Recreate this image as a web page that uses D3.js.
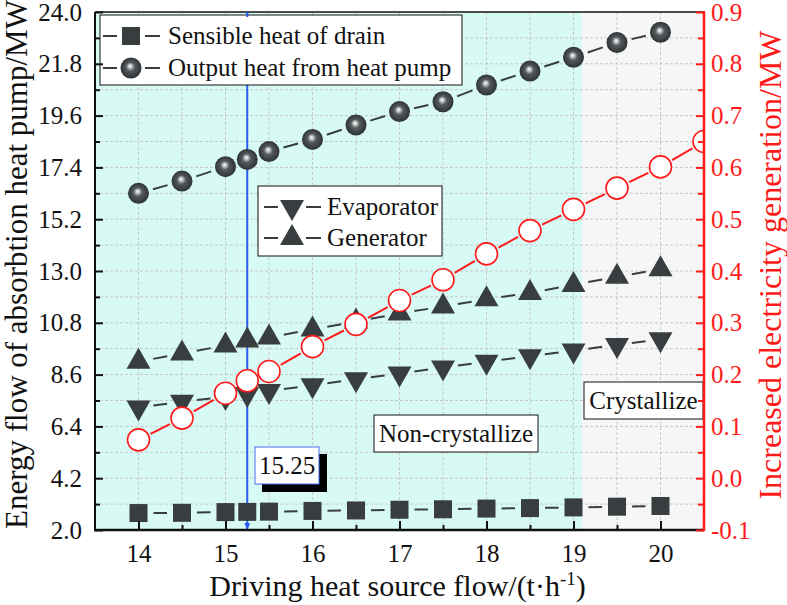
<!DOCTYPE html>
<html><head><meta charset="utf-8">
<script src="https://cdn.jsdelivr.net/npm/d3@7"></script>
<style>
html,body{margin:0;padding:0;background:#fff;}
</style></head>
<body>
<svg id="chart" width="787" height="605" font-family="Liberation Serif"></svg>
<script>
// ---------- data ----------
const flowX        = [14, 14.5, 15, 15.25, 15.5, 16, 16.5, 17, 17.5, 18, 18.5, 19, 19.5, 20];
const sensibleHeat = [2.72, 2.73, 2.76, 2.77, 2.78, 2.81, 2.83, 2.86, 2.88, 2.91, 2.93, 2.96, 2.99, 3.02];
const outputHeat   = [16.30, 16.82, 17.43, 17.74, 18.07, 18.59, 19.20, 19.77, 20.19, 20.90, 21.49, 22.08, 22.70, 23.14];
const evaporator   = [7.20, 7.45, 7.65, 7.78, 7.90, 8.15, 8.40, 8.65, 8.90, 9.15, 9.38, 9.62, 9.86, 10.10];
const generator    = [9.15, 9.50, 9.84, 10.05, 10.18, 10.52, 10.85, 11.20, 11.49, 11.80, 12.07, 12.41, 12.76, 13.07];
const elecX        = [14, 14.5, 15, 15.25, 15.5, 16, 16.5, 17, 17.5, 18, 18.5, 19, 19.5, 20, 20.5];
const elecGen      = [0.074, 0.116, 0.164, 0.188, 0.206, 0.254, 0.297, 0.343, 0.383, 0.433, 0.478, 0.519, 0.560, 0.601, 0.650];
const xMajorTicks  = [14, 15, 16, 17, 18, 19, 20];
const yLeftTicks   = [2.0, 4.2, 6.4, 8.6, 10.8, 13.0, 15.2, 17.4, 19.6, 21.8, 24.0];
const yRightTicks  = [-0.1, 0.0, 0.1, 0.2, 0.3, 0.4, 0.5, 0.6, 0.7, 0.8, 0.9];
const markerFlow   = 15.25;
const crystalStart = 19.1;
const legendNames  = ["Sensible heat of drain", "Output heat from heat pump", "Evaporator", "Generator"];

// ---------- layout ----------
const FONT = "Liberation Serif";
const L = 95, R = 704, T = 12, B = 530;
const svg = d3.select("#chart");
const x = d3.scaleLinear().domain([13.5, 20.5]).range([L, R]);
const y = d3.scaleLinear().domain([2.0, 24.0]).range([B, T]);
const y2 = d3.scaleLinear().domain([-0.1, 0.9]).range([B, T]);

const defs = svg.append("defs");
const grad = defs.append("radialGradient").attr("id", "ball").attr("cx", "50%").attr("cy", "50%").attr("r", "50%").attr("fx", "45%").attr("fy", "40%");
grad.append("stop").attr("offset", "0%").attr("stop-color", "#ffffff");
grad.append("stop").attr("offset", "16%").attr("stop-color", "#c8cbcb");
grad.append("stop").attr("offset", "42%").attr("stop-color", "#545a5c");
grad.append("stop").attr("offset", "100%").attr("stop-color", "#2d3335");
defs.append("clipPath").attr("id", "plotclip").append("rect").attr("x", L).attr("y", T).attr("width", R - L).attr("height", B - T);

// backgrounds
svg.append("rect").attr("x", L).attr("y", T).attr("width", x(crystalStart) - L).attr("height", B - T).attr("fill", "#d8faf5");
svg.append("rect").attr("x", x(crystalStart)).attr("y", T).attr("width", R - x(crystalStart)).attr("height", B - T).attr("fill", "#f6f6f6");

// grid
const grid = svg.append("g").attr("stroke", "#c8c8c8").attr("stroke-width", 1).attr("stroke-dasharray", "3,2");
d3.range(14, 20.01, 0.5).forEach(v => grid.append("line").attr("x1", x(v)).attr("x2", x(v)).attr("y1", T).attr("y2", B));
d3.range(1, 20).forEach(i => { const v = 2.0 + i * 1.1; grid.append("line").attr("x1", L).attr("x2", R).attr("y1", y(v)).attr("y2", y(v)); });

// blue reference line
svg.append("line").attr("x1", x(markerFlow)).attr("x2", x(markerFlow)).attr("y1", T).attr("y2", B).attr("stroke", "#2a5cf0").attr("stroke-width", 2);
svg.append("path").attr("d", `M${x(markerFlow) - 3},${B - 7}L${x(markerFlow) + 3},${B - 7}L${x(markerFlow)},${B}Z`).attr("fill", "#2a5cf0");

// helpers
function gapSegments(g, pts, gap, color, width) {
  for (let i = 0; i < pts.length - 1; i++) {
    const [x1, y1] = pts[i], [x2, y2p] = pts[i + 1];
    const d = Math.hypot(x2 - x1, y2p - y1);
    if (d <= 2 * gap + 2) continue;
    const ux = (x2 - x1) / d, uy = (y2p - y1) / d;
    g.append("line").attr("x1", x1 + ux * gap).attr("y1", y1 + uy * gap)
      .attr("x2", x2 - ux * gap).attr("y2", y2p - uy * gap)
      .attr("stroke", color).attr("stroke-width", width);
  }
}
const triUp = "M0,-14L12,7L-12,7Z";
const triDown = "M0,14L12,-7L-12,-7Z";
const darkFill = "#383e40";
function drawMarker(g, type, cx, cy) {
  if (type === "square") g.append("rect").attr("x", cx - 9).attr("y", cy - 9).attr("width", 18).attr("height", 18).attr("fill", darkFill);
  else if (type === "ball") g.append("circle").attr("cx", cx).attr("cy", cy).attr("r", 10.5).attr("fill", "url(#ball)");
  else if (type === "up") g.append("path").attr("d", triUp).attr("transform", `translate(${cx},${cy})`).attr("fill", darkFill);
  else if (type === "down") g.append("path").attr("d", triDown).attr("transform", `translate(${cx},${cy})`).attr("fill", darkFill);
}

const plot = svg.append("g").attr("clip-path", "url(#plotclip)");
const seriesDefs = [
  {vals: sensibleHeat, type: "square"},
  {vals: outputHeat, type: "ball"},
  {vals: evaporator, type: "down"},
  {vals: generator, type: "up"}
];
seriesDefs.forEach(s => {
  const pts = flowX.map((fx, i) => [x(fx), y(s.vals[i])]);
  const g = plot.append("g");
  gapSegments(g, pts, 15, "#383e40", 2);
  pts.forEach(p => drawMarker(g, s.type, p[0], p[1]));
});
// red series
{
  const pts = elecX.map((fx, i) => [x(fx), y2(elecGen[i])]);
  const g = plot.append("g");
  gapSegments(g, pts, 13.5, "#ff1a1a", 2);
  pts.forEach(p => g.append("circle").attr("cx", p[0]).attr("cy", p[1]).attr("r", 11).attr("fill", "#fff").attr("stroke", "#ff1a1a").attr("stroke-width", 1.6));
}

function txt(sel) { return sel.attr("font-family", FONT); }

// legends
function legendBox(x0, y0, w, h) {
  svg.append("rect").attr("x", x0).attr("y", y0).attr("width", w).attr("height", h).attr("fill", "#fff").attr("stroke", "#111").attr("stroke-width", 1);
}
function legendRow(mx, my, type, label, tx) {
  const g = svg.append("g");
  g.append("line").attr("x1", mx - 28).attr("x2", mx - 14).attr("y1", my).attr("y2", my).attr("stroke", "#383e40").attr("stroke-width", 2);
  g.append("line").attr("x1", mx + 14).attr("x2", mx + 29).attr("y1", my).attr("y2", my).attr("stroke", "#383e40").attr("stroke-width", 2);
  drawMarker(g, type, mx, my);
  txt(g.append("text").attr("x", tx).attr("y", my).attr("dy", "0.33em").attr("font-size", 25).attr("fill", "#111").text(label));
}
legendBox(100, 15, 362, 70);
legendRow(131, 36, "square", legendNames[0], 168);
legendRow(131, 68, "ball", legendNames[1], 168);
legendBox(258, 186, 184, 70);
legendRow(292, 207, "down", legendNames[2], 327);
legendRow(292, 238, "up", legendNames[3], 327);

// annotation boxes
function labelBox(x0, y0, w, h, label, stroke) {
  svg.append("rect").attr("x", x0).attr("y", y0).attr("width", w).attr("height", h).attr("fill", "#fff").attr("stroke", stroke).attr("stroke-width", 1);
  txt(svg.append("text").attr("x", x0 + w / 2).attr("y", y0 + h / 2).attr("dy", "0.33em").attr("text-anchor", "middle").attr("font-size", 25).attr("fill", "#111").text(label));
}
svg.append("rect").attr("x", 262).attr("y", 454).attr("width", 65).attr("height", 38).attr("fill", "#000");
labelBox(255, 447, 64, 37, String(markerFlow), "#4a6cf0");
labelBox(374, 415, 164, 37, "Non-crystallize", "#111");
labelBox(584, 382, 119, 37, "Crystallize", "#111");

// axes
const ax = svg.append("g");
ax.append("line").attr("x1", L).attr("x2", R).attr("y1", T).attr("y2", T).attr("stroke", "#111").attr("stroke-width", 1.5);
// left
const leftMinor = d3.range(0, 10).map(i => 3.1 + i * 2.2);
const gLm = ax.append("g").attr("transform", `translate(${L},0)`).call(d3.axisLeft(y).tickValues(leftMinor).tickSize(-5).tickFormat(""));
const gL = ax.append("g").attr("transform", `translate(${L},0)`).call(d3.axisLeft(y).tickValues(yLeftTicks).tickSize(-8).tickPadding(13).tickFormat(d => d.toFixed(1)));
[gLm, gL].forEach(g => { g.attr("font-family", FONT); g.select(".domain").remove(); g.selectAll("line").attr("stroke", "#111").attr("stroke-width", 2); });
txt(gL.selectAll("text").attr("font-size", 25).attr("fill", "#111"));
ax.append("line").attr("x1", L).attr("x2", L).attr("y1", T).attr("y2", B).attr("stroke", "#111").attr("stroke-width", 2);
// bottom
const bottomMinor = d3.range(14.5, 20, 1);
const gBm = ax.append("g").attr("transform", `translate(0,${B})`).call(d3.axisBottom(x).tickValues(bottomMinor).tickSize(-5).tickFormat(""));
const gB = ax.append("g").attr("transform", `translate(0,${B})`).call(d3.axisBottom(x).tickValues(xMajorTicks).tickSize(-9).tickPadding(14).tickFormat(d3.format("d")));
[gBm, gB].forEach(g => { g.attr("font-family", FONT); g.select(".domain").remove(); g.selectAll("line").attr("stroke", "#111").attr("stroke-width", 2); });
txt(gB.selectAll("text").attr("font-size", 25).attr("fill", "#111"));
ax.append("line").attr("x1", L - 1).attr("x2", R).attr("y1", B).attr("y2", B).attr("stroke", "#111").attr("stroke-width", 2.5);
// right
const rightMinor = d3.range(0, 10).map(i => -0.05 + i * 0.1);
const gRm = ax.append("g").attr("transform", `translate(${R},0)`).call(d3.axisRight(y2).tickValues(rightMinor).tickSize(-6).tickFormat(""));
const gR = ax.append("g").attr("transform", `translate(${R},0)`).call(d3.axisRight(y2).tickValues(yRightTicks).tickSize(-8).tickPadding(7).tickFormat(d => d.toFixed(1)));
[gRm, gR].forEach(g => { g.attr("font-family", FONT); g.select(".domain").remove(); g.selectAll("line").attr("stroke", "#ff1a1a").attr("stroke-width", 2); });
txt(gR.selectAll("text").attr("font-size", 25).attr("fill", "#ff1a1a"));
ax.append("line").attr("x1", R).attr("x2", R).attr("y1", T - 1).attr("y2", B + 1).attr("stroke", "#ff1a1a").attr("stroke-width", 2.5);
ax.append("line").attr("x1", x(markerFlow)).attr("x2", x(markerFlow)).attr("y1", T).attr("y2", T + 5).attr("stroke", "#2a5cf0").attr("stroke-width", 2);

// titles
const xt = txt(svg.append("text").attr("x", (L + R) / 2 - 2).attr("y", 596).attr("text-anchor", "middle").attr("font-size", 30).attr("fill", "#111"));
xt.append("tspan").text("Driving heat source flow/(t·h");
xt.append("tspan").attr("dy", -11).attr("font-size", 19).text("-1");
xt.append("tspan").attr("dy", 11).text(")");
txt(svg.append("text").attr("transform", "translate(27,529) rotate(-90)").attr("text-anchor", "start").attr("font-size", 31).attr("fill", "#111").text("Energy flow of absorbtion heat pump/MW"));
txt(svg.append("text").attr("transform", "translate(781,265) rotate(-90)").attr("text-anchor", "middle").attr("font-size", 32).attr("fill", "#ff1a1a").text("Increased electricity generation/MW"));
</script>
</body></html>
